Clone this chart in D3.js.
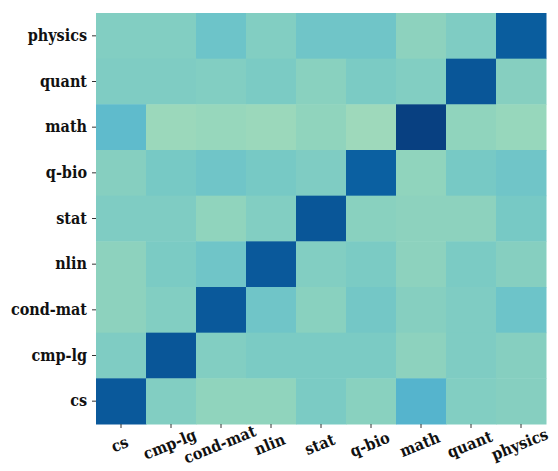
<!DOCTYPE html>
<html>
<head>
<meta charset="utf-8">
<script src="https://cdn.jsdelivr.net/npm/d3@7"></script>
<style>
  body { margin: 0; background: #fff; }
  .tick text { font-family: "DejaVu Serif Condensed", "DejaVu Serif", serif; font-stretch: condensed; font-weight: bold; font-size: 16px; fill: #111; }
</style>
</head>
<body>
<div id="chart"></div>
<script>
// Column categories (left to right) and row categories (top to bottom)
const cols = ['cs', 'cmp-lg', 'cond-mat', 'nlin', 'stat', 'q-bio', 'math', 'quant', 'physics'];
const rows = ['physics', 'quant', 'math', 'q-bio', 'stat', 'nlin', 'cond-mat', 'cmp-lg', 'cs'];

// Cell values per row, in column order
const physicsRow = [0.48, 0.48, 0.54, 0.48, 0.53, 0.53, 0.45, 0.49, 0.91];
const quantRow   = [0.49, 0.49, 0.48, 0.50, 0.46, 0.50, 0.48, 0.93, 0.47];
const mathRow    = [0.58, 0.41, 0.42, 0.41, 0.44, 0.40, 1.00, 0.44, 0.42];
const qbioRow    = [0.47, 0.51, 0.53, 0.51, 0.49, 0.90, 0.44, 0.51, 0.53];
const statRow    = [0.49, 0.49, 0.44, 0.48, 0.93, 0.46, 0.45, 0.45, 0.51];
const nlinRow    = [0.45, 0.50, 0.53, 0.92, 0.48, 0.50, 0.45, 0.50, 0.47];
const condmatRow = [0.45, 0.48, 0.92, 0.53, 0.46, 0.52, 0.47, 0.49, 0.54];
const cmplgRow   = [0.49, 0.93, 0.48, 0.50, 0.50, 0.50, 0.45, 0.49, 0.47];
const csRow      = [0.92, 0.48, 0.44, 0.44, 0.50, 0.46, 0.61, 0.48, 0.47];

const matrix = [physicsRow, quantRow, mathRow, qbioRow, statRow, nlinRow, condmatRow, cmplgRow, csRow];

const cells = [];
matrix.forEach((vals, r) => {
    vals.forEach((v, c) => cells.push({ row: rows[r], col: cols[c], value: v }));
});

const margin = { top: 13, right: 12, bottom: 47, left: 96 };
const width = 558 - margin.left - margin.right;
const height = 471 - margin.top - margin.bottom;

const svg = d3.select('#chart').append('svg')
    .attr('width', 558)
    .attr('height', 471);

const g = svg.append('g')
    .attr('transform', `translate(${margin.left},${margin.top})`);

const x = d3.scaleBand().domain(cols).range([0, width]);
const y = d3.scaleBand().domain(rows).range([0, height]);
const color = d3.scaleSequential(d3.interpolateGnBu).domain([0, 1]);

g.selectAll('.cell')
    .data(cells)
    .enter()
    .append('rect')
    .attr('class', 'cell')
    .attr('x', d => x(d.col))
    .attr('y', d => y(d.row))
    .attr('width', x.bandwidth() + 0.5)
    .attr('height', y.bandwidth() + 0.5)
    .attr('fill', d => color(d.value));

// Y axis
const yAxis = g.append('g')
    .call(d3.axisLeft(y).tickSize(4).tickPadding(5));
yAxis.select('.domain').remove();
yAxis.selectAll('.tick line').attr('stroke', '#333');

// X axis with tilted labels, rotated about their own centre
const xAxis = g.append('g')
    .attr('transform', `translate(0,${height})`)
    .call(d3.axisBottom(x).tickSize(4).tickPadding(4));
xAxis.select('.domain').remove();
xAxis.selectAll('.tick line').attr('stroke', '#333');
xAxis.selectAll('.tick text')
    .attr('y', 0)
    .attr('text-anchor', 'middle')
    .attr('dy', '0.3em')
    .attr('transform', 'translate(-1,21) rotate(-22)');
</script>
</body>
</html>
